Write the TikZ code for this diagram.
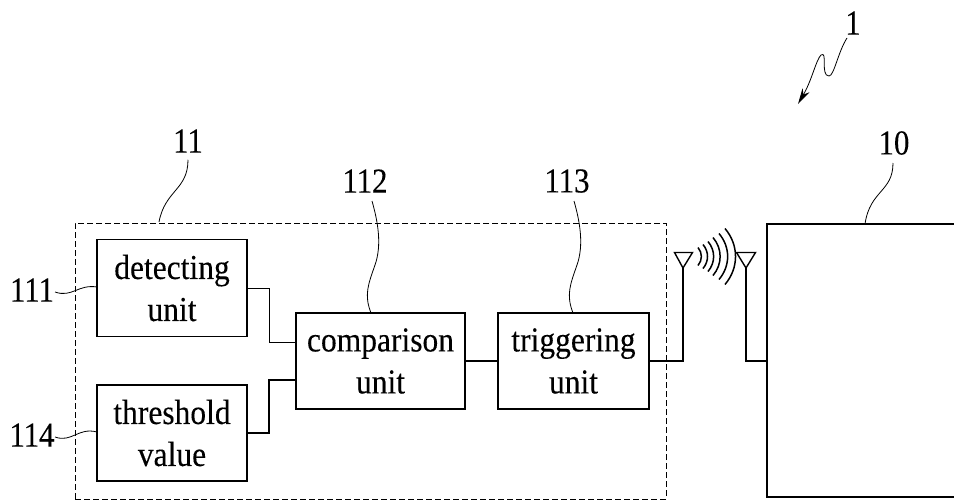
\documentclass[tikz,border=0pt]{standalone}
\usepackage{fontspec}
\setmainfont[FakeStretch=0.9, FakeBold=0.15]{Liberation Serif}
\newfontfamily\numfont[FakeStretch=0.88, FakeBold=0.15]{Liberation Serif}
\usetikzlibrary{arrows.meta}

\begin{document}
\begin{tikzpicture}[
    x=1pt, y=-1pt,
    unitbox/.style={
        rectangle,
        draw=black,
        line width=1.4pt,
        inner sep=0pt,
        align=center,
        font=\fontsize{35}{42}\selectfont
    },
    refnum/.style={
        inner sep=0pt,
        font=\numfont\fontsize{35}{35}\selectfont
    },
    wire/.style={
        line width=1.2pt,
        color=black
    },
    leader/.style={
        line width=0.8pt,
        color=black
    },
    aerial/.style={
        line width=1.4pt,
        color=black
    }
]
\useasboundingbox (0,0) rectangle (954,501);

\node[unitbox] (detect)  at (172,288)   [minimum width=150pt, minimum height=97pt] {detecting\\unit};
\node[unitbox] (thresh)  at (172,433)   [minimum width=150pt, minimum height=96pt] {threshold\\value};
\node[unitbox] (compare) at (380.5,361) [minimum width=169pt, minimum height=96pt] {comparison\\unit};
\node[unitbox] (trigger) at (573.5,361) [minimum width=151pt, minimum height=96pt] {triggering\\unit};

\node[draw, dashed, dash pattern=on 6pt off 3pt, line width=1pt, minimum width=591pt, minimum height=276pt, inner sep=0pt] (module) at (370.5,361) {};
\node[draw, line width=1.6pt, minimum width=210pt, minimum height=273pt, inner sep=0pt] (device) at (872,360.5) {};

\node[refnum] (n1)   at (853,23)  {1};
\node[refnum] (n10)  at (894,143) {10};
\node[refnum] (n11)  at (188,141) {11};
\node[refnum] (n112) at (365,181) {112};
\node[refnum] (n113) at (567,181) {113};
\node[refnum] (n111) at (32,290)  {111};
\node[refnum] (n114) at (32,435)  {114};

\coordinate (aerialA) at (683,268);
\coordinate (aerialB) at (746,268);
\coordinate (target)  at (798,104);

\draw[wire, line width=1pt] (detect.east) -- (269,288) -- (269,342) -- (compare.west |- 0,342);
\draw[wire, line width=1.6pt] (thresh.east) -- (269,433) -- (269,380) -- (compare.west |- 0,380);
\draw[wire] (compare) -- (trigger);
\draw[wire, line width=1.4pt] (trigger.east) -- (aerialA |- trigger.east) -- (aerialA);
\draw[wire, line width=1.4pt] (device.west |- 0,361) -- (746,361) -- (aerialB);

\draw[aerial] (aerialA) -- (674.5,252.5) -- (692.5,252.5) -- cycle;
\draw[aerial] (aerialB) -- (736.5,252.5) -- (755.5,252.5) -- cycle;

\foreach \xpos/\yspan in {698/9, 703/12, 708/15, 713/19, 719/23, 725/28}
    \draw[line width=1.5pt] (\xpos,256.5-\yspan) to[bend left=40] (\xpos,256.5+\yspan);

\draw[leader, -{Stealth[length=16pt, width=8pt]}] (847,38) .. controls (838,52) and (834,76) .. (829,76)
    .. controls (820,76) and (828,50) .. (821,55) .. controls (816,60) and (812,80) .. (target);
\draw[leader] (n10.south) ++(-1,8) .. controls (893,192) and (870,190) .. (865,224);
\draw[leader] (n11.south) ++(0,7) .. controls (188,190) and (165,190) .. (159,222);
\draw[leader] (372,201) .. controls (378,222) and (382,245) .. (375,265) .. controls (368,285) and (364,295) .. (371,313);
\draw[leader] (574,201) .. controls (580,222) and (584,245) .. (577,265) .. controls (570,285) and (566,295) .. (573,313);
\draw[leader] (55,292) .. controls (72,298) and (78,284) .. (97,287);
\draw[leader] (55,437) .. controls (72,443) and (78,427) .. (97,432);

\end{tikzpicture}
\end{document}
